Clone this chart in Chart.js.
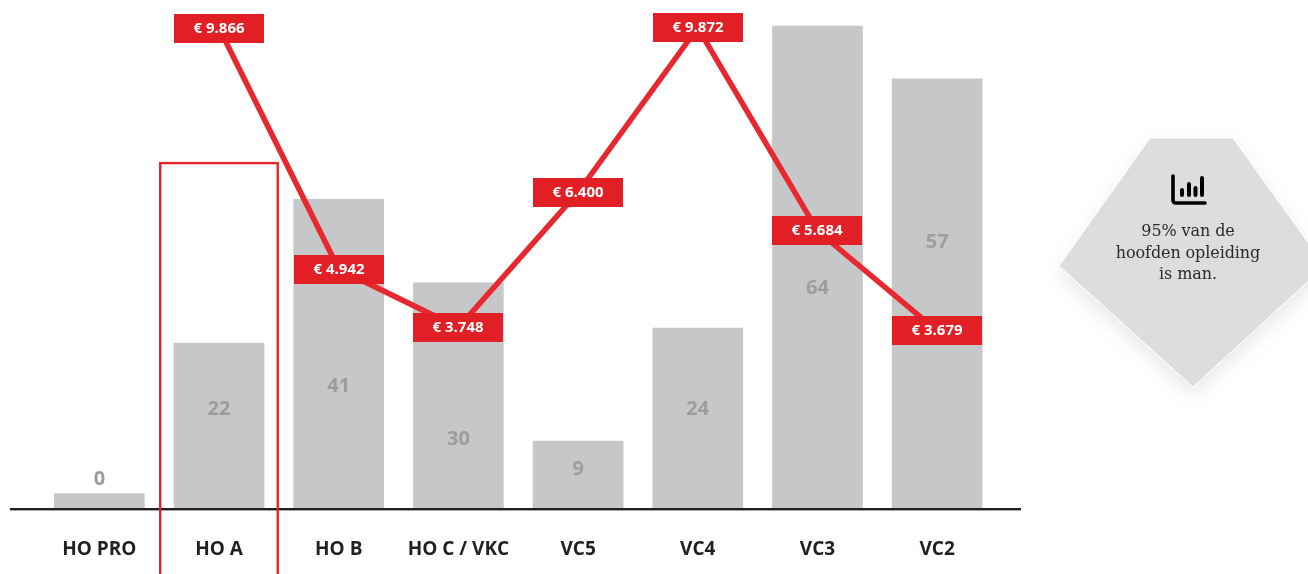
<!DOCTYPE html>
<html lang="nl">
<head>
<meta charset="utf-8">
<title>Hoofden opleiding</title>
<script src="https://cdn.jsdelivr.net/npm/chart.js@4"></script>
<style>
    html, body { margin: 0; padding: 0; background: #fff; overflow: hidden; }
    #wrap { position: relative; width: 1308px; height: 574px; overflow: hidden; }
    #chart { position: absolute; left: 0; top: 0; }
    #callout { position: absolute; left: 0; top: 0; }
    #calloutText {
        position: absolute; left: 1088px; top: 220px; width: 200px;
        text-align: center; font: 16px/21.5px "DejaVu Serif", serif; letter-spacing: -0.1px; color: #2b2a2b;
    }
</style>
</head>
<body>
<div id="wrap">
    <canvas id="chart" width="1308" height="574"></canvas>
    <svg id="callout" width="1308" height="574">
        <defs>
            <filter id="soft" x="-20%" y="-20%" width="140%" height="140%">
                <feDropShadow dx="0" dy="8" stdDeviation="9" flood-color="#000" flood-opacity="0.09"/>
            </filter>
        </defs>
        <polygon points="1150,138 1233,138 1325,266 1193,387 1059,266" fill="#dcdddf" stroke="#fff" stroke-width="1" filter="url(#soft)"/>
        <path d="M1173 176 V200 Q1173 203 1176 203 H1205" fill="none" stroke="#000" stroke-width="3.6" stroke-linecap="round"/>
        <path d="M1182 190 V195 M1189 184 V195 M1195.5 188 V195 M1202 178 V195" fill="none" stroke="#000" stroke-width="4" stroke-linecap="round"/>
    </svg>
    <div id="calloutText">95% van de<br>hoofden opleiding<br>is man.</div>
</div>
<script>
// Values
const categories = ['HO PRO', 'HO A', 'HO B', 'HO C / VKC', 'VC5', 'VC4', 'VC3', 'VC2'];
const countLabels = ['0', '22', '41', '30', '9', '24', '64', '57'];
const barHeights = [1.9, 21.9, 41, 29.9, 8.9, 23.9, 64, 57];
const countLabelLevels = [3.8, 13.1, 16.2, 9.1, 5.2, 13.1, 29.2, 35.3];
const salaryLabels = [null, '€ 9.866', '€ 4.942', '€ 3.748', '€ 6.400', '€ 9.872', '€ 5.684', '€ 3.679'];
const salaryLevels = [null, 9866, 4942, 3748, 6510, 9872, 5725, 3679];
const highlightCategory = 'HO A';
const highlightTop = 45.8;

const labelsPlugin = {
    id: 'labels',
    afterDatasetsDraw(chart) {
        const { ctx, scales: { x, y, y1 }, chartArea } = chart;
        ctx.save();

        // Baseline runs past the first and last band
        ctx.fillStyle = '#231f20';
        ctx.fillRect(10, chartArea.bottom, 1011, 2.4);

        // Outlined column around the highlighted category
        const hx = x.getPixelForValue(categories.indexOf(highlightCategory));
        ctx.strokeStyle = '#e5232b';
        ctx.lineWidth = 2.4;
        ctx.strokeRect(hx - 58.8, y.getPixelForValue(highlightTop), 117.5, chart.height + 10);

        ctx.textAlign = 'center';
        ctx.textBaseline = 'middle';

        // Counts
        ctx.font = 'bold 20px "Open Sans", sans-serif';
        ctx.fillStyle = '#9c9d9f';
        countLabels.forEach(function (text, i) {
            ctx.fillText(text, x.getPixelForValue(i), y.getPixelForValue(countLabelLevels[i]));
        });

        // Salary tags on the line
        ctx.font = 'bold 15px "Open Sans", sans-serif';
        salaryLabels.forEach(function (text, i) {
            if (!text) return;
            const px = Math.round(x.getPixelForValue(i) - 45) + 45;
            const py = Math.round(y1.getPixelForValue(salaryLevels[i]) - 14.5) + 14.5;
            ctx.fillStyle = '#e31f26';
            ctx.fillRect(px - 45, py - 14.5, 90, 29);
            ctx.fillStyle = '#fff';
            ctx.fillText(text, px, py + 0.5);
        });

        ctx.restore();
    }
};

new Chart(document.getElementById('chart').getContext('2d'), {
    data: {
        labels: categories,
        datasets: [
            {
                type: 'line',
                data: salaryLevels,
                yAxisID: 'y1',
                borderColor: '#e8282f',
                borderWidth: 5.5,
                pointRadius: 0,
                tension: 0,
                spanGaps: false,
                clip: false,
                order: 1
            },
            {
                type: 'bar',
                data: barHeights,
                yAxisID: 'y',
                backgroundColor: '#c6c7c9',
                barThickness: 90,
                order: 2
            }
        ]
    },
    options: {
        responsive: false,
        animation: false,
        layout: { padding: { left: 39.5, right: 311, top: 0, bottom: 0 } },
        plugins: { legend: { display: false }, tooltip: { enabled: false } },
        scales: {
            x: {
                grid: { display: false },
                border: { display: false },
                afterFit: function (scale) { scale.height = 66; },
                ticks: {
                    color: '#231f20',
                    padding: 22,
                    maxRotation: 0,
                    autoSkip: false,
                    font: { family: '"Open Sans", sans-serif', size: 19, weight: 'bold' }
                }
            },
            y: { display: false, min: 0, max: 67.46 },
            y1: { display: false, min: 61, max: 10439 }
        }
    },
    plugins: [labelsPlugin]
});
</script>
</body>
</html>
